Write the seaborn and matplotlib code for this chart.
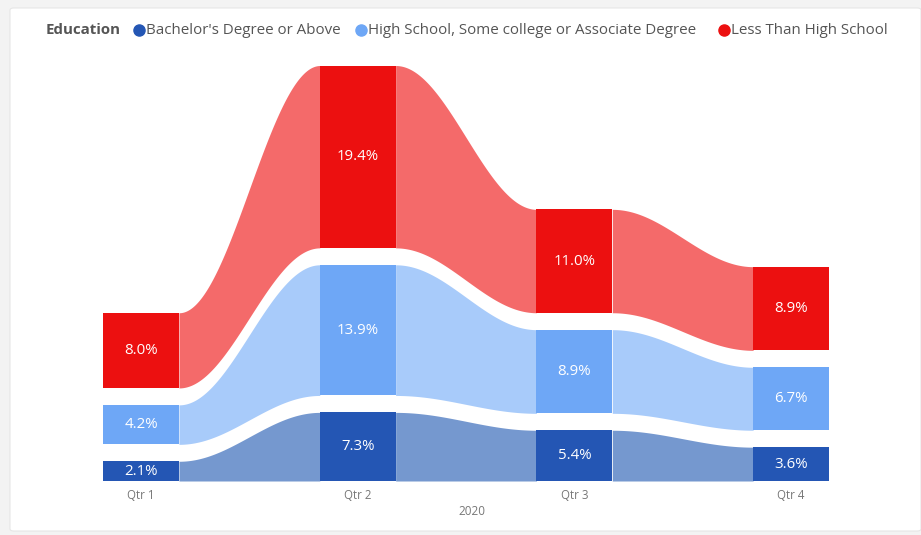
import numpy as np
import matplotlib
matplotlib.use("Agg")
import matplotlib.pyplot as plt
from matplotlib.patches import FancyBboxPatch
from matplotlib.lines import Line2D
import seaborn as sns

# Unemployment rate by education level, 2020 quarters
quarters = ["Qtr 1", "Qtr 2", "Qtr 3", "Qtr 4"]
year_label = "2020"
series_names = [
    "Bachelor's Degree or Above",
    "High School, Some college or Associate Degree",
    "Less Than High School",
]
bachelor = [2.1, 7.3, 5.4, 3.6]
high_school = [4.2, 13.9, 8.9, 6.7]
less_than_hs = [8.0, 19.4, 11.0, 8.9]

bar_colors = ["#2456B4", "#6EA7F6", "#EC1010"]
ribbon_colors = ["#7598CF", "#A8CBFA", "#F46A6A"]

sns.set_theme(style="white")
plt.rcParams["font.family"] = ["Open Sans", "DejaVu Sans"]

fig = plt.figure(figsize=(9.21, 5.35), dpi=100)
fig.patch.set_facecolor("#F3F3F3")

# white card behind the visual
card = FancyBboxPatch((10 / 921, 4 / 535), 911 / 921, 523 / 535,
                      boxstyle="round,pad=0,rounding_size=0.004",
                      transform=fig.transFigure, facecolor="white",
                      edgecolor="#E6E6E6", linewidth=0.8, zorder=0)
fig.add_artist(card)

ax = fig.add_axes([32.7 / 921, 54 / 535, 866.7 / 921, 423 / 535])
ax.set_facecolor("none")
ax.set_xlim(-0.5, 3.5)
ax.set_ylim(0, 45)
for s in ax.spines.values():
    s.set_visible(False)

series = [bachelor, high_school, less_than_hs]
gap = 1.8
bar_w = 0.35
x = np.arange(len(quarters))

# stack the series with a gap between them
bottoms = []
running = np.zeros(len(quarters))
for i, vals in enumerate(series):
    vals = np.asarray(vals, dtype=float)
    bottoms.append(running.copy())
    running = running + vals + gap

# smooth ribbons between neighbouring bars
t = np.linspace(0, 1, 200)
ease = (1 - np.cos(np.pi * t)) / 2
for i, vals in enumerate(series):
    vals = np.asarray(vals, dtype=float)
    lo = bottoms[i]
    hi = lo + vals
    for k in range(len(quarters) - 1):
        x0 = x[k] + bar_w / 2
        x1 = x[k + 1] - bar_w / 2
        xs = x0 + (x1 - x0) * t
        lo_c = lo[k] + (lo[k + 1] - lo[k]) * ease
        hi_c = hi[k] + (hi[k + 1] - hi[k]) * ease
        ax.fill_between(xs, lo_c, hi_c, color=ribbon_colors[i], linewidth=0, zorder=1)

# bars and value labels
for i, vals in enumerate(series):
    vals = np.asarray(vals, dtype=float)
    ax.bar(x, vals, width=bar_w, bottom=bottoms[i], color=bar_colors[i],
           linewidth=0, zorder=2)
    for k in range(len(quarters)):
        ax.text(x[k], bottoms[i][k] + vals[k] / 2, f"{vals[k]:.1f}%",
                ha="center", va="center", color="white", fontsize=10.8, zorder=3)

ax.set_yticks([])
ax.set_xticks(x)
ax.set_xticklabels(quarters, fontsize=8.3, color="#777777")
ax.tick_params(axis="x", length=0, pad=6)
ax.set_xlabel(year_label, fontsize=8.5, color="#777777")
ax.xaxis.set_label_coords((472 - 32.7) / 866.7, -24 / 423)

# legend header
ly = 1 - 30 / 535
fig.text(46 / 921, ly, "Education", fontsize=10.8, fontweight="bold",
         color="#555555", ha="left", va="center")
marker_x = [139, 361, 724]
for mx, name, col in zip(marker_x, series_names, bar_colors):
    fig.add_artist(Line2D([mx / 921], [ly], marker="o", markersize=8,
                          color=col, linestyle="none", transform=fig.transFigure))
    fig.text((mx + 7) / 921, ly, name, fontsize=10.9, color="#555555",
             ha="left", va="center")

fig.savefig("out.png", dpi=100, facecolor=fig.get_facecolor())
